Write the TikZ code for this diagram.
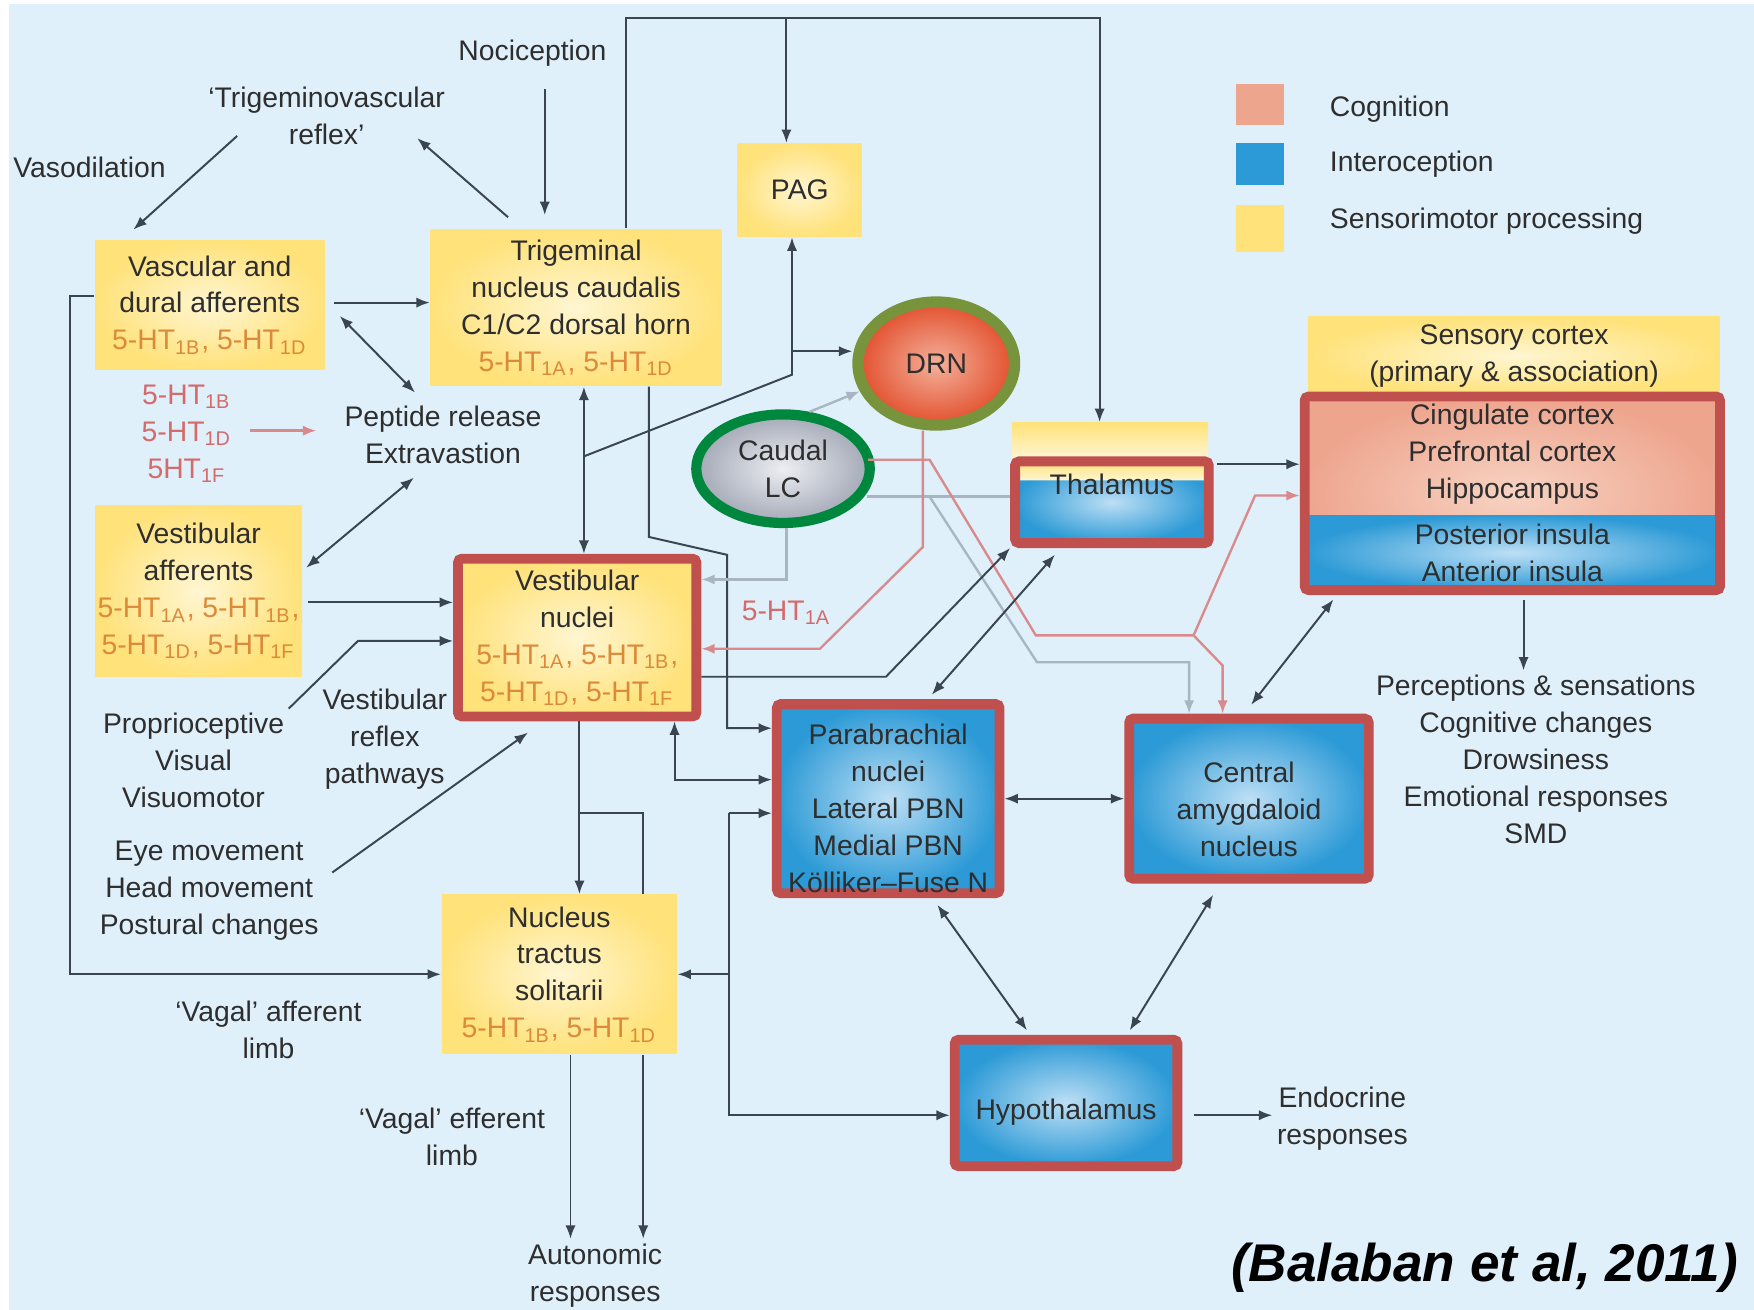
\documentclass[tikz,border=0pt]{standalone}
\usepackage{fontspec}
\setmainfont{Liberation Sans}
\usetikzlibrary{calc,positioning,shapes.geometric,arrows.meta}

\definecolor{bgBlue}{HTML}{DFF0FB}
\definecolor{txtGray}{HTML}{2E2E2E}
\definecolor{txtOrange}{HTML}{DC8A3A}
\definecolor{txtPink}{HTML}{D46A6A}
\definecolor{lineDark}{HTML}{3A4550}
\definecolor{lineGray}{HTML}{A9B5C2}
\definecolor{linePink}{HTML}{D98A8A}
\definecolor{yDark}{HTML}{FFE27A}
\definecolor{yLight}{HTML}{FFF6D2}
\definecolor{bDark}{HTML}{2C9AD6}
\definecolor{bLight}{HTML}{BDDFF5}
\definecolor{pkDark}{HTML}{EEA58E}
\definecolor{pkLight}{HTML}{F7D3C3}
\definecolor{redB}{HTML}{C0504D}
\definecolor{drnRim}{HTML}{77933C}
\definecolor{drnDark}{HTML}{E2502E}
\definecolor{drnLight}{HTML}{F4B09A}
\definecolor{lcRim}{HTML}{00873E}
\definecolor{lcDark}{HTML}{A3A9B6}
\definecolor{lcLight}{HTML}{ECEEF2}

\newcommand{\fiveHT}[1]{5-HT\textsubscript{#1}}

\tikzset{
  txt/.style={align=center, inner sep=1pt, text=txtGray},
  pinktxt/.style={align=center, inner sep=1pt, text=txtPink},
  ybox/.style={inner color=yLight, outer color=yDark, align=center, inner sep=0pt, text=txtGray},
  yrbox/.style={ybox, draw=redB, line width=2.5pt, rounded corners=1pt},
  bbox/.style={inner color=bLight, outer color=bDark, draw=redB, line width=2.5pt, rounded corners=1pt, align=center, inner sep=0pt, text=txtGray},
  link/.style={draw=lineDark, line width=0.5pt},
  glink/.style={draw=lineGray, line width=0.6pt},
  plink/.style={draw=linePink, line width=0.6pt},
  legsq/.style={minimum width=0.43cm, minimum height=0.37cm, inner sep=0pt}
}

\begin{document}
\begin{tikzpicture}[x=0.01cm, y=-0.01cm, font=\fontsize{7.2}{9.4}\selectfont, >={Latex[length=3.4pt,width=2.6pt]}]

\useasboundingbox (0,0) rectangle (1568,1171);
\fill[white] (0,0) rectangle (1568,1171);
\fill[bgBlue] (8,4) rectangle (1568,1171);

% boxes
\node[ybox, minimum width=2.05cm, minimum height=1.15cm] (vasc) at (187.5,272.5) {Vascular and\\dural afferents\\{\color{txtOrange}\fiveHT{1B}, \fiveHT{1D}}};
\node[ybox, minimum width=2.60cm, minimum height=1.40cm] (trig) at (515,275) {Trigeminal\\nucleus caudalis\\C1/C2 dorsal horn\\{\color{txtOrange}\fiveHT{1A}, \fiveHT{1D}}};
\node[ybox, minimum width=1.11cm, minimum height=0.83cm] (pag) at (715,170) {PAG};
\node[ybox, minimum width=1.85cm, minimum height=1.53cm] (vestaff) at (177.5,528.5) {Vestibular\\afferents\\{\color{txtOrange}\fiveHT{1A}, \fiveHT{1B},}\\{\color{txtOrange}\fiveHT{1D}, \fiveHT{1F}}};
\node[yrbox, minimum width=2.13cm, minimum height=1.41cm] (vestnuc) at (516,570) {Vestibular\\nuclei\\{\color{txtOrange}\fiveHT{1A}, \fiveHT{1B},}\\{\color{txtOrange}\fiveHT{1D}, \fiveHT{1F}}};
\node[ybox, minimum width=2.10cm, minimum height=1.42cm] (nts) at (500,871) {Nucleus\\tractus\\solitarii\\{\color{txtOrange}\fiveHT{1B}, \fiveHT{1D}}};

\node[bbox, minimum width=1.99cm, minimum height=1.69cm] (pbn) at (794,714) {\rule{0pt}{0.35cm}Parabrachial\\nuclei\\Lateral PBN\\Medial PBN\\Kölliker–Fuse N};
\node[bbox, minimum width=2.14cm, minimum height=1.43cm] (cea) at (1116.5,714) {\rule{0pt}{0.37cm}Central\\amygdaloid\\nucleus};
\node[bbox, minimum width=1.99cm, minimum height=1.13cm] (hypo) at (953,986) {\raisebox{-0.15cm}[0pt][0pt]{Hypothalamus}};

\node[top color=yDark, bottom color=yLight, minimum width=1.75cm, minimum height=0.32cm, inner sep=0pt] (thalY) at (992.5,394) {};
\node[draw=redB, line width=2.5pt, rounded corners=1pt, minimum width=1.73cm, minimum height=0.73cm, inner sep=0pt, text=txtGray,
  path picture={
    \shade[inner color=bLight, outer color=bDark] (path picture bounding box.south west) rectangle (path picture bounding box.north east);
    \shade[top color=yDark, bottom color=yLight] (path picture bounding box.north west) rectangle ([yshift=-0.17cm]path picture bounding box.north east);
  }] (thal) at (994,449) {\raisebox{0.07cm}[0pt][0pt]{Thalamus}};

\node[ybox, minimum width=3.67cm, minimum height=0.70cm] (sens) at (1353.5,318) {Sensory cortex\\(primary \& association)};
\node[draw=redB, line width=2.5pt, rounded corners=1pt, minimum width=3.71cm, minimum height=1.73cm, inner sep=0pt, align=center, text=txtGray,
  path picture={
    \shade[inner color=pkLight, outer color=pkDark] (path picture bounding box.north west) rectangle ([yshift=-1.06cm]path picture bounding box.north east);
    \shade[inner color=bLight, outer color=bDark] ([yshift=-1.06cm]path picture bounding box.north west) rectangle (path picture bounding box.south east);
  }] (cortex) at (1352,441) {Cingulate cortex\\Prefrontal cortex\\Hippocampus\\[0.08cm]Posterior insula\\Anterior insula};

\node[ellipse, draw=drnRim, line width=2.85pt, inner color=drnLight, outer color=drnDark, minimum width=1.40cm, minimum height=1.10cm, inner sep=0pt, text=txtGray] (drn) at (837,325) {DRN};
\node[ellipse, draw=lcRim, line width=2.6pt, inner color=lcLight, outer color=lcDark, minimum width=1.55cm, minimum height=0.97cm, inner sep=0pt, align=center, text=txtGray] (lc) at (700,419) {Caudal\\LC};

% free texts
\node[txt] (noci) at (476,48) {Nociception};
\node[txt] (tvr) at (292,103.5) {`Trigeminovascular\\reflex'};
\node[txt] (vaso) at (80,150) {Vasodilation};
\node[txt] (peptide) at (396,389) {Peptide release\\Extravastion};
\node[pinktxt] (htlist) at (167,388) {\fiveHT{1B}\\\fiveHT{1D}\\5HT\textsubscript{1F}};
\node[txt] (propr) at (173,680) {Proprioceptive\\Visual\\Visuomotor};
\node[txt] (vrp) at (344,661) {Vestibular\\reflex\\pathways};
\node[txt] (eye) at (187,796) {Eye movement\\Head movement\\Postural changes};
\node[txt] (vaff) at (240,921) {`Vagal' afferent\\limb};
\node[txt] (veff) at (404,1016) {`Vagal' efferent\\limb};
\node[txt] (auto) at (532,1140) {Autonomic\\responses};
\node[txt] (endo) at (1200,1000) {Endocrine\\responses};
\node[txt] (percep) at (1373,679) {Perceptions \& sensations\\Cognitive changes\\Drowsiness\\Emotional responses\\SMD};
\node[pinktxt] (htOneA) at (703,548) {\fiveHT{1A}};

% legend
\node[legsq, fill=pkDark] (legCog) at (1126.5,93.5) {};
\node[legsq, fill=bDark] (legInt) at (1126.5,146.5) {};
\node[legsq, fill=yDark, minimum height=0.42cm] (legSen) at (1126.5,204) {};
\node[txt, right=0.36cm of legCog, yshift=-0.04cm] (legCogTxt) {Cognition};
\node[txt, right=0.36cm of legInt] (legIntTxt) {Interoception};
\node[txt, right=0.36cm of legSen, yshift=0.06cm] (legSenTxt) {Sensorimotor processing};

\node[font=\fontsize{13.5}{16}\selectfont\bfseries\itshape] (cite) at (1327,1133) {(Balaban et al, 2011)};

% trigeminal side
\coordinate (nociFoot) at ($(noci.south)+(11,16)$);
\draw[link,->,shorten >=0.12cm] (nociFoot) -- (nociFoot |- trig.north);
\draw[link,->] ($(trig.north west)+(70,-10)$) -- ($(tvr.south east)+(-29,-10)$);
\draw[link,->] ($(tvr.south west)+(30,-12)$) -- ($(vasc.north west)+(35,-9)$);
\coordinate (vtOut) at ($(vasc.east)+(8,-2)$);
\draw[link,->] (vtOut) -- (vtOut -| trig.west);
\draw[link,<->] ($(vasc.east)+(13,10)$) -- ($(peptide.north)+(-25,-8)$);
\draw[plink,->] ($(htlist.east)+(12,-3)$) -- ($(peptide.west)+(-21,-4)$);
\draw[link,<->] ($(peptide.south)+(-26,8)$) -- ($(vestaff.east)+(3,-21)$);

% long loop to NTS
\coordinate (loopL) at (63,265);
\draw[link,->] (vasc.west |- loopL) -- (loopL) |- (nts.west);

% inputs to vestibular nuclei
\coordinate (vaOut) at ($(vestaff.east)+(5,10)$);
\draw[link,->] (vaOut) -- (vaOut -| vestnuc.west);
\coordinate (prBend) at (320,573);
\draw[link,->] (propr.north east) -- (prBend) -- (prBend -| vestnuc.west);
\draw[link,->] ($(eye.east)+(8,-16)$) -- ($(vestnuc.south)+(-44,10)$);

% top feedback
\coordinate (topLeft) at (560,16);
\coordinate (topRight) at (983,16);
\coordinate (pagIn) at (703,16);
\draw[link,->] (topLeft |- trig.north) -- (topLeft) -- (topRight) -- (topRight |- thalY.north);
\draw[link,->] (pagIn) -- (pagIn |- pag.north);

% PAG and DRN
\coordinate (vjoin) at (522,408);
\coordinate (pagBend) at (708,335);
\coordinate (drnIn) at (708,314);
\draw[link,<->] (trig.south -| vjoin) -- (vestnuc.north -| vjoin);
\draw[link,->] (vjoin) -- (pagBend) -- (pagBend |- pag.south);
\draw[link,->] (drnIn) -- (drnIn -| drn.west);

% trigeminal to parabrachial
\coordinate (tpA) at (580,480);
\coordinate (tpB) at (650,496);
\coordinate (tpC) at (650,651);
\draw[link,->] (trig.south -| tpA) -- (tpA) -- (tpB) -- (tpC) -- (tpC -| pbn.west);

% caudal LC
\coordinate (lcDown) at (703,518);
\draw[glink,->] (lc.south -| lcDown) -- (lcDown) -- (lcDown -| vestnuc.east);
\draw[glink,->] (lc.65) -- (drn.200);
\coordinate (lcGray) at (775,444);
\coordinate (gBr) at (831,444);
\coordinate (gB) at (927,592);
\coordinate (gC) at (1063,592);
\draw[glink] (lcGray) -- (lcGray -| thal.west);
\draw[glink,->] (gBr) -- (gB) -- (gC) -- (gC |- cea.north);
\coordinate (lcPink) at (776,411);
\coordinate (pA) at (831,411);
\coordinate (pB) at (926,568);
\coordinate (pJ) at (1067,568);
\coordinate (pUp) at (1122,443);
\coordinate (pDn) at (1093,595);
\draw[plink] (lcPink) -- (pA) -- (pB) -- (pJ);
\draw[plink,->] (pJ) -- (pUp) -- (pUp -| cortex.west);
\draw[plink,->] (pJ) -- (pDn) -- (pDn |- cea.north);

% DRN to vestibular nuclei
\coordinate (drnP) at (825,489);
\coordinate (drnQ) at (733,580);
\draw[plink,->] (drn.south -| drnP) -- (drnP) -- (drnQ) -- (drnQ -| vestnuc.east);

% thalamus and cortex
\coordinate (vtB) at (792,605);
\draw[link,->] (vestnuc.east |- vtB) -- (vtB) -- (thal.south west);
\draw[link,<->] ($(thal.south west)+(40,6)$) -- ($(pbn.north)+(39,-4)$);
\coordinate (tcOut) at ($(thal.east)+(3,-34)$);
\draw[link,->] (tcOut) -- (tcOut -| cortex.west);
\coordinate (cpOut) at ($(cortex.south)+(10,4)$);
\draw[link,->] (cpOut) -- (cpOut |- percep.north);
\draw[link,<->] ($(cortex.south west)+(30,4)$) -- ($(cea.north)+(2,-8)$);
\draw[link,<->] (pbn.east) -- (cea.west);

% vestibular nuclei, NTS, hypothalamus
\coordinate (vpB) at (603,697);
\draw[link,<->] (vestnuc.south -| vpB) -- (vpB) -- (vpB -| pbn.west);
\coordinate (vnFoot) at ($(vestnuc.south)+(2,0)$);
\draw[link,->] (vnFoot) -- (vnFoot |- nts.north);
\coordinate (vnBr) at (518,727);
\coordinate (vnBr2) at (575,727);
\draw[link] (vnBr) -- (vnBr2) -- (vnBr2 |- nts.north);
\coordinate (ntsA) at ($(nts.south)+(10,0)$);
\coordinate (ntsB) at ($(nts.south)+(75,0)$);
\draw[link,->] (ntsA) -- (ntsA |- auto.north);
\draw[link,->] (ntsB) -- (ntsB |- auto.north);
\coordinate (fTop) at (652,727);
\coordinate (fBot) at (652,997);
\draw[link,->] (fTop) -- (fTop -| pbn.west);
\draw[link,->] (fTop) -- (fBot) -- (fBot -| hypo.west);
\draw[link,->] (fTop |- nts.east) -- (nts.east);
\draw[link,<->] ($(pbn.south)+(44,6)$) -- ($(hypo.north west)+(69,-4)$);
\draw[link,<->] ($(cea.south)+(-32,10)$) -- ($(hypo.north east)+(-47,-4)$);
\coordinate (heOut) at ($(hypo.east)+(10,11)$);
\draw[link,->] (heOut) -- (heOut -| endo.west);

\end{tikzpicture}
\end{document}
